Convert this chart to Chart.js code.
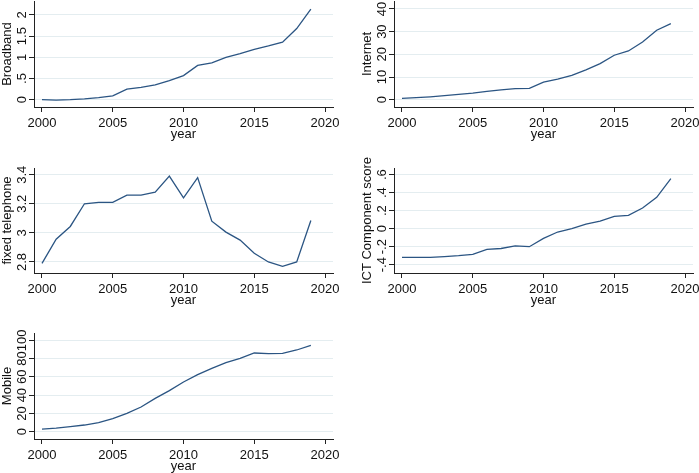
<!DOCTYPE html>
<html>
<head>
<meta charset="utf-8">
<script src="https://cdn.jsdelivr.net/npm/chart.js@4.4.0/dist/chart.umd.min.js"></script>
<style>
  body { margin: 0; background: #fff; }
  .panel { position: absolute; }
</style>
</head>
<body>
<div class="panel" style="left:0px;top:0px"><canvas id="c1" width="350" height="150"></canvas></div>
<div class="panel" style="left:360px;top:0px"><canvas id="c2" width="339" height="150"></canvas></div>
<div class="panel" style="left:0px;top:154px"><canvas id="c3" width="350" height="160"></canvas></div>
<div class="panel" style="left:360px;top:154px"><canvas id="c4" width="339" height="160"></canvas></div>
<div class="panel" style="left:0px;top:319px"><canvas id="c5" width="350" height="154"></canvas></div>
<script>
// данные
const years = [2000, 2001, 2002, 2003, 2004, 2005, 2006, 2007, 2008, 2009,
  2010, 2011, 2012, 2013, 2014, 2015, 2016, 2017, 2018, 2019];
const broadband = [0.00, -0.01, 0.00, 0.02, 0.05, 0.09, 0.25, 0.29, 0.35, 0.45,
  0.57, 0.81, 0.87, 1.00, 1.09, 1.19, 1.27, 1.36, 1.68, 2.14];
const internet = [0.6, 0.9, 1.3, 1.8, 2.4, 2.9, 3.7, 4.3, 4.9, 5.0,
  7.8, 9.1, 10.7, 13.2, 15.9, 19.6, 21.5, 25.4, 30.6, 33.5];
const fixedTelephone = [2.79, 2.956, 3.044, 3.20, 3.21, 3.21, 3.26, 3.26, 3.28, 3.39,
  3.24, 3.38, 3.08, 3.005, 2.95, 2.86, 2.80, 2.77, 2.80, 3.085];
const ictScore = [-0.318, -0.318, -0.318, -0.31, -0.30, -0.285, -0.23, -0.22, -0.19, -0.20,
  -0.107, -0.037, 0.0, 0.052, 0.085, 0.137, 0.148, 0.23, 0.348, 0.555];
const mobile = [2.9, 4.0, 5.5, 7.3, 9.9, 14.2, 20, 27, 36.5, 45,
  54.4, 62.4, 69.3, 75.5, 80.3, 86.1, 85.4, 85.8, 89.4, 94.5];

const xTicks = [2000, 2005, 2010, 2015, 2020];
const broadbandTicks = [0, 0.5, 1, 1.5, 2];
const broadbandLabels = ["0", ".5", "1", "1.5", "2"];
const internetTicks = [0, 10, 20, 30, 40];
const internetLabels = ["0", "10", "20", "30", "40"];
const fixedTicks = [2.8, 3, 3.2, 3.4];
const fixedLabels = ["2.8", "3", "3.2", "3.4"];
const ictTicks = [-0.4, -0.2, 0, 0.2, 0.4, 0.6];
const ictLabels = ["-.4", "-.2", "0", ".2", ".4", ".6"];
const mobileTicks = [0, 20, 40, 60, 80, 100];
const mobileLabels = ["0", "20", "40", "60", "80", "100"];

const FONT = '"Liberation Sans", Arial, Helvetica, sans-serif';
Chart.defaults.font.family = FONT;
Chart.defaults.font.size = 13;
Chart.defaults.color = "#111";

// подписи оси Y повёрнуты, как в Stata
const rotatedYLabels = {
  id: "rotatedYLabels",
  afterDraw(chart) {
    const scale = chart.scales.y;
    const ctx = chart.ctx;
    ctx.save();
    ctx.font = "13px " + FONT;
    ctx.fillStyle = "#111";
    ctx.textAlign = "center";
    ctx.textBaseline = "middle";
    scale.ticks.forEach((t) => {
      const y = scale.getPixelForValue(t.value);
      ctx.save();
      ctx.translate(scale.right - 12, y);
      ctx.rotate(-Math.PI / 2);
      ctx.fillText(t.label, 0, 0);
      ctx.restore();
    });
    ctx.restore();
  },
};

function makeChart(id, values, title, ticks, labels, yMin, yMax, padTop, chartH, padRight) {
  const canvas = document.getElementById(id);
  const padBottom = canvas.height - padTop - chartH - 36;
  return new Chart(canvas, {
    type: "line",
    data: {
      datasets: [{
        data: years.map((yr, i) => ({ x: yr, y: values[i] })),
        borderColor: "#2b5583",
        borderWidth: 1.3,
        pointRadius: 0,
        tension: 0,
        fill: false,
      }],
    },
    options: {
      responsive: false,
      animation: false,
      events: [],
      layout: { padding: { left: 0, top: padTop, right: padRight, bottom: padBottom } },
      plugins: { legend: { display: false }, tooltip: { enabled: false } },
      scales: {
        x: {
          type: "linear",
          min: 1999.435,
          max: 2020.565,
          afterBuildTicks: (s) => { s.ticks = xTicks.map((v) => ({ value: v })); },
          afterFit: (s) => { s.height = 36; s.paddingLeft = 0; s.paddingRight = 0; },
          ticks: { padding: 4, maxRotation: 0, callback: (v) => String(v) },
          grid: { drawOnChartArea: false, drawTicks: true, tickLength: 5, tickColor: "#222", tickWidth: 1 },
          border: { display: true, color: "#222", width: 1 },
          title: { display: true, text: "year", padding: { top: 0, bottom: 1 }, font: { size: 13 } },
        },
        y: {
          type: "linear",
          min: yMin,
          max: yMax,
          afterBuildTicks: (s) => { s.ticks = ticks.map((v) => ({ value: v })); },
          afterFit: (s) => { s.width = 34; s.paddingTop = 0; s.paddingBottom = 0; },
          ticks: { display: false, callback: (v) => labels[ticks.indexOf(v)] },
          grid: { color: "#e4edf0", lineWidth: 1, drawTicks: true, tickLength: 5, tickColor: "#222", tickWidth: 1 },
          border: { display: true, color: "#222", width: 1 },
          title: { display: true, text: title, padding: 0, font: { size: 13 } },
        },
      },
    },
    plugins: [rotatedYLabels],
  });
}

makeChart("c1", broadband, "Broadband", broadbandTicks, broadbandLabels, -0.172, 2.33, 1, 106, 17);
makeChart("c2", internet, "Internet", internetTicks, internetLabels, -3.2, 43.5, 1, 106, 6);
makeChart("c3", fixedTelephone, "fixed telephone", fixedTicks, fixedLabels, 2.724, 3.446, 14, 105, 17);
makeChart("c4", ictScore, "ICT Component score", ictTicks, ictLabels, -0.492, 0.674, 14, 105, 6);
makeChart("c5", mobile, "Mobile", mobileTicks, mobileLabels, -8.0, 108, 14, 106, 17);
</script>
</body>
</html>
